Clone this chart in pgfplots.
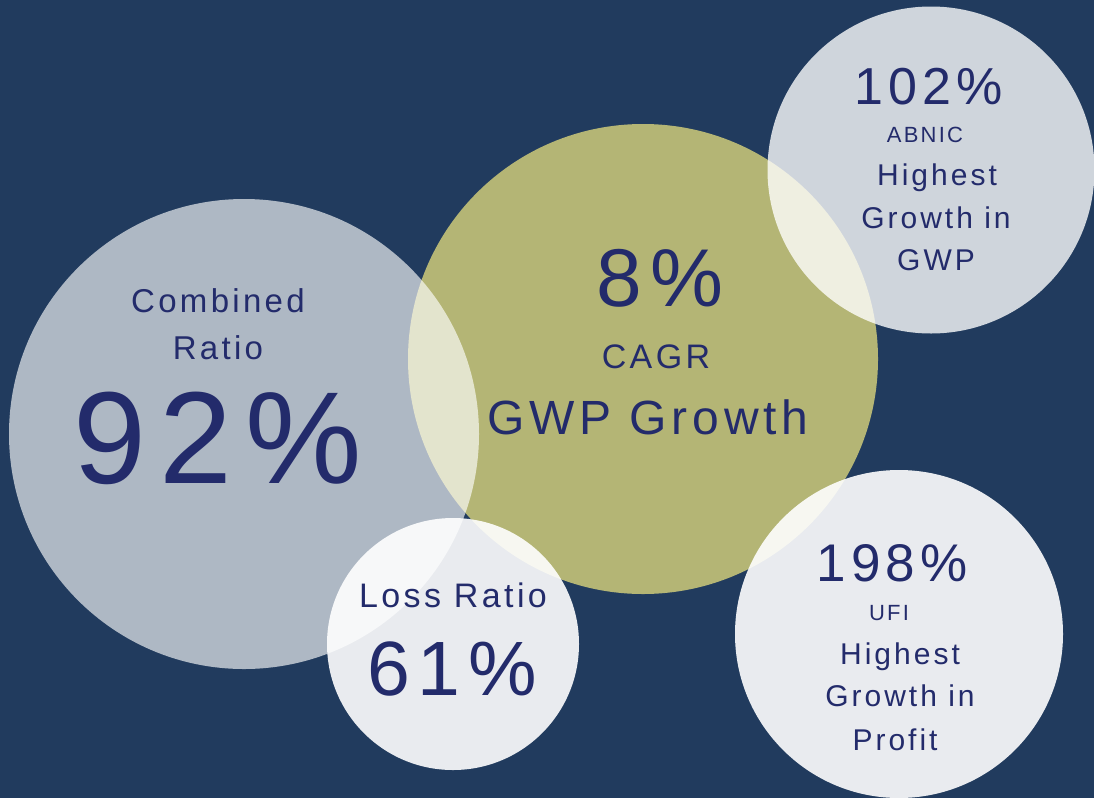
\documentclass[border=0pt]{standalone}
\usepackage{pgfplots}
\pgfplotsset{compat=1.18}
\usepackage{fontspec}
\setmainfont{Liberation Sans}
\newfontfamily\lsf[LetterSpace=10]{Liberation Sans}
\definecolor{navybg}{RGB}{33,59,94}
\definecolor{olivec}{RGB}{180,181,117}
\definecolor{txt}{RGB}{35,43,107}
\begin{document}
\begin{tikzpicture}
\fill[navybg] (0,0) rectangle (1094pt,798pt);
\begin{axis}[
  at={(0,0)}, anchor=south west,
  scale only axis, width=1094pt, height=798pt,
  xmin=0, xmax=1094, ymin=0, ymax=798, y dir=reverse,
  hide axis, clip=false,
]
% olive bubble
\addplot[olivec, only marks, mark=*, mark size=235, mark options={draw opacity=0, fill=olivec}] coordinates {(643,359)};
% combined ratio
\addplot[white, only marks, mark=*, mark size=235, mark options={draw opacity=0, fill=white, fill opacity=0.64}] coordinates {(244,434)};
% top right
\addplot[white, only marks, mark=*, mark size=163.5, mark options={draw opacity=0, fill=white, fill opacity=0.79}] coordinates {(931,170)};
% loss ratio
\addplot[white, only marks, mark=*, mark size=126, mark options={draw opacity=0, fill=white, fill opacity=0.9}] coordinates {(453,644)};
% bottom right
\addplot[white, only marks, mark=*, mark size=164, mark options={draw opacity=0, fill=white, fill opacity=0.9}] coordinates {(899,634)};

\coordinate (t1) at (axis cs:218,313);
\coordinate (t2) at (axis cs:218,360);
\coordinate (t3) at (axis cs:218,484);
\coordinate (t4) at (axis cs:660,307);
\coordinate (t5) at (axis cs:656,369);
\coordinate (t6) at (axis cs:648,435);
\coordinate (t7) at (axis cs:929,105);
\coordinate (t8) at (axis cs:925,143);
\coordinate (t9) at (axis cs:937,186);
\coordinate (t10) at (axis cs:936,229);
\coordinate (t11) at (axis cs:936,271);
\coordinate (t12) at (axis cs:453,607);
\coordinate (t13) at (axis cs:452,695);
\coordinate (t14) at (axis cs:892,582);
\coordinate (t15) at (axis cs:889,620);
\coordinate (t16) at (axis cs:900,664);
\coordinate (t17) at (axis cs:900,706);
\coordinate (t18) at (axis cs:895,750);
\end{axis}
\begin{scope}[every node/.style={text=txt, anchor=base, inner sep=0pt}]
\node at (t1) {\lsf\fontsize{33}{33}\selectfont Combined};
\node at (t2) {\lsf\fontsize{33}{33}\selectfont Ratio};
\node at (t3) {\lsf\fontsize{131}{131}\selectfont 92\%};
\node at (t4) {\lsf\fontsize{82}{82}\selectfont 8\%};
\node at (t5) {\lsf\fontsize{34}{34}\selectfont CAGR};
\node at (t6) {\lsf\fontsize{48}{48}\selectfont GWP Growth};
\node at (t7) {\lsf\fontsize{52}{52}\selectfont 102\%};
\node at (t8) {\lsf\fontsize{22}{22}\selectfont ABNIC};
\node at (t9) {\lsf\fontsize{30}{30}\selectfont Highest};
\node at (t10) {\lsf\fontsize{30}{30}\selectfont Growth in};
\node at (t11) {\lsf\fontsize{30}{30}\selectfont GWP};
\node at (t12) {\lsf\fontsize{34}{34}\selectfont Loss Ratio};
\node at (t13) {\lsf\fontsize{77}{77}\selectfont 61\%};
\node at (t14) {\lsf\fontsize{53}{53}\selectfont 198\%};
\node at (t15) {\lsf\fontsize{22}{22}\selectfont UFI};
\node at (t16) {\lsf\fontsize{30}{30}\selectfont Highest};
\node at (t17) {\lsf\fontsize{30}{30}\selectfont Growth in};
\node at (t18) {\lsf\fontsize{30}{30}\selectfont Profit};
\end{scope}
\pgfresetboundingbox
\path[use as bounding box] (0,0) rectangle (1094pt,798pt);
\end{tikzpicture}
\end{document}
